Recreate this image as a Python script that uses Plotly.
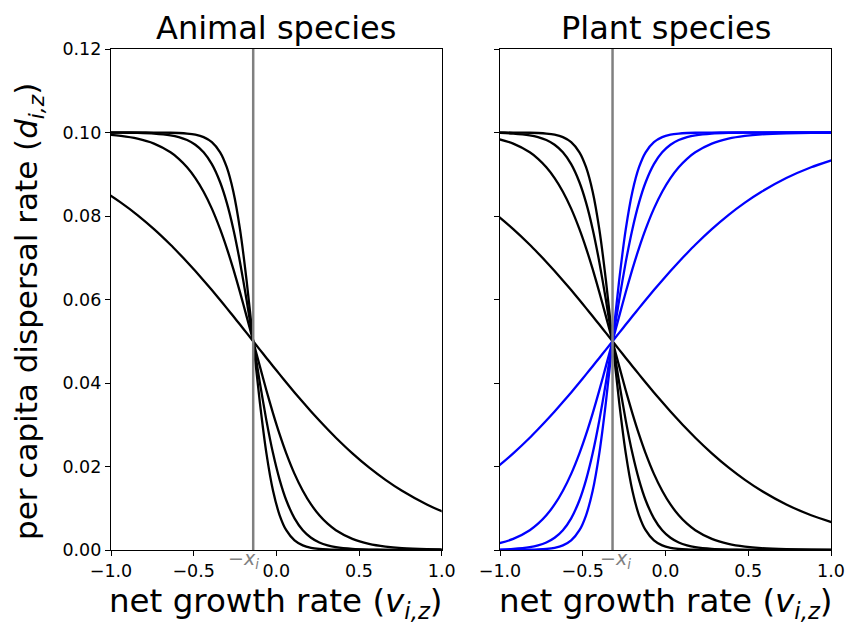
import plotly.graph_objects as go

# Threshold positions (x_i) for each group
animal_xi = 0.14
plant_xi = 0.32
# Where the "-x_i" marker label sits on each growth-rate axis
animal_label_v = -0.2
plant_label_v = -0.3

# Net growth rate sample points for each panel
animal_v = [-1.49, -1.34, -1.19, -1.04, -0.94, -0.84, -0.74, -0.64, -0.59, -0.54, -0.49, -0.44,
            -0.39, -0.34, -0.30, -0.26, -0.22, -0.18, -0.14, -0.10, -0.06, -0.02, 0.02, 0.06,
            0.11, 0.16, 0.21, 0.26, 0.31, 0.36, 0.46, 0.56, 0.66, 0.76, 0.91, 1.06, 1.21]
plant_v = [-1.67, -1.52, -1.37, -1.22, -1.12, -1.02, -0.92, -0.82, -0.77, -0.72, -0.67, -0.62,
           -0.57, -0.52, -0.48, -0.44, -0.40, -0.36, -0.32, -0.28, -0.24, -0.20, -0.16, -0.12,
           -0.07, -0.02, 0.03, 0.08, 0.13, 0.18, 0.28, 0.38, 0.48, 0.58, 0.73, 0.88, 1.03]

# Dispersal rates decreasing with growth rate (four steepness levels)
dec_shallow = [0.09370, 0.09168, 0.08909, 0.08581, 0.08320, 0.08022, 0.07685, 0.07311, 0.07109,
               0.06900, 0.06682, 0.06457, 0.06225, 0.05987, 0.05793, 0.05597, 0.05399, 0.05200,
               0.05000, 0.04800, 0.04601, 0.04403, 0.04207, 0.04013, 0.03775, 0.03543, 0.03318,
               0.03100, 0.02891, 0.02689, 0.02315, 0.01978, 0.01680, 0.01419, 0.01091, 0.00832,
               0.00630]
dec_medium = [0.09997, 0.09993, 0.09982, 0.09955, 0.09918, 0.09852, 0.09734, 0.09526, 0.09370,
              0.09168, 0.08909, 0.08581, 0.08176, 0.07685, 0.07231, 0.06726, 0.06178, 0.05597,
              0.05000, 0.04403, 0.03822, 0.03274, 0.02769, 0.02315, 0.01824, 0.01419, 0.01091,
              0.00832, 0.00630, 0.00474, 0.00266, 0.00148, 0.00082, 0.00045, 0.00018, 0.00007,
              0.00003]
dec_steep = [0.10000, 0.10000, 0.10000, 0.09999, 0.09997, 0.09991, 0.09975, 0.09933, 0.09890,
             0.09820, 0.09707, 0.09526, 0.09241, 0.08808, 0.08320, 0.07685, 0.06900, 0.05987,
             0.05000, 0.04013, 0.03100, 0.02315, 0.01680, 0.01192, 0.00759, 0.00474, 0.00293,
             0.00180, 0.00110, 0.00067, 0.00025, 0.00009, 0.00003, 0.00001, 0.0, 0.0,
             0.0]
dec_sharp = [0.10000, 0.10000, 0.10000, 0.10000, 0.10000, 0.10000, 0.09999, 0.09994, 0.09988,
             0.09975, 0.09948, 0.09890, 0.09770, 0.09526, 0.09168, 0.08581, 0.07685, 0.06457,
             0.05000, 0.03543, 0.02315, 0.01419, 0.00832, 0.00474, 0.00230, 0.00110, 0.00052,
             0.00025, 0.00012, 0.00006, 0.00001, 0.0, 0.0, 0.0, 0.0, 0.0,
             0.0]

# Dispersal rates increasing with growth rate (plants only)
inc_shallow = [0.00630, 0.00832, 0.01091, 0.01419, 0.01680, 0.01978, 0.02315, 0.02689, 0.02891,
               0.03100, 0.03318, 0.03543, 0.03775, 0.04013, 0.04207, 0.04403, 0.04601, 0.04800,
               0.05000, 0.05200, 0.05399, 0.05597, 0.05793, 0.05987, 0.06225, 0.06457, 0.06682,
               0.06900, 0.07109, 0.07311, 0.07685, 0.08022, 0.08320, 0.08581, 0.08909, 0.09168,
               0.09370]
inc_medium = [0.00003, 0.00007, 0.00018, 0.00045, 0.00082, 0.00148, 0.00266, 0.00474, 0.00630,
              0.00832, 0.01091, 0.01419, 0.01824, 0.02315, 0.02769, 0.03274, 0.03822, 0.04403,
              0.05000, 0.05597, 0.06178, 0.06726, 0.07231, 0.07685, 0.08176, 0.08581, 0.08909,
              0.09168, 0.09370, 0.09526, 0.09734, 0.09852, 0.09918, 0.09955, 0.09982, 0.09993,
              0.09997]
inc_steep = [0.0, 0.0, 0.0, 0.00001, 0.00003, 0.00009, 0.00025, 0.00067, 0.00110,
             0.00180, 0.00293, 0.00474, 0.00759, 0.01192, 0.01680, 0.02315, 0.03100, 0.04013,
             0.05000, 0.05987, 0.06900, 0.07685, 0.08320, 0.08808, 0.09241, 0.09526, 0.09707,
             0.09820, 0.09890, 0.09933, 0.09975, 0.09991, 0.09997, 0.09999, 0.10000, 0.10000,
             0.10000]
inc_sharp = [0.0, 0.0, 0.0, 0.0, 0.0, 0.0, 0.00001, 0.00006, 0.00012,
             0.00025, 0.00052, 0.00110, 0.00230, 0.00474, 0.00832, 0.01419, 0.02315, 0.03543,
             0.05000, 0.06457, 0.07685, 0.08581, 0.09168, 0.09526, 0.09770, 0.09890, 0.09948,
             0.09975, 0.09988, 0.09994, 0.09999, 0.10000, 0.10000, 0.10000, 0.10000, 0.10000,
             0.10000]

x_ticks = [-1.0, -0.5, 0.0, 0.5, 1.0]
x_ticktext = ["\u22121.0", "\u22120.5", "0.0", "0.5", "1.0"]
y_ticks = [0.0, 0.02, 0.04, 0.06, 0.08, 0.10, 0.12]
y_ticktext = ["0.00", "0.02", "0.04", "0.06", "0.08", "0.10", "0.12"]

FONT = "DejaVu Sans"
W, H = 847, 623
LW = 2.3

fig = go.Figure()

for ys in [dec_shallow, dec_medium, dec_steep, dec_sharp]:
    fig.add_trace(go.Scatter(x=animal_v, y=ys, mode="lines", xaxis="x", yaxis="y",
                             line=dict(color="black", width=LW, shape="spline", smoothing=0.6),
                             showlegend=False, hoverinfo="skip"))
for ys in [dec_shallow, dec_medium, dec_steep, dec_sharp]:
    fig.add_trace(go.Scatter(x=plant_v, y=ys, mode="lines", xaxis="x2", yaxis="y2",
                             line=dict(color="black", width=LW, shape="spline", smoothing=0.6),
                             showlegend=False, hoverinfo="skip"))
for ys in [inc_shallow, inc_medium, inc_steep, inc_sharp]:
    fig.add_trace(go.Scatter(x=plant_v, y=ys, mode="lines", xaxis="x2", yaxis="y2",
                             line=dict(color="#0000ff", width=LW, shape="spline", smoothing=0.6),
                             showlegend=False, hoverinfo="skip"))

# Plot-area geometry (pixels)
left1, right1 = 111, 441.7
left2, right2 = 500, 831
top, bottom = 49, 550
px = lambda v: v / W
py = lambda v: (H - v) / H

axis_common = dict(showline=True, linecolor="black", linewidth=1.3, mirror=True,
                   ticks="outside", ticklen=5, tickwidth=1.3, tickcolor="black",
                   showgrid=False, zeroline=False, automargin=False,
                   tickfont=dict(family=FONT, size=17.5, color="black"))

fig.update_layout(
    width=W, height=H,
    margin=dict(l=0, r=0, t=0, b=0, autoexpand=False),
    paper_bgcolor="white", plot_bgcolor="white",
    font=dict(family=FONT, color="black"),
    xaxis=dict(domain=[px(left1), px(right1)], range=[-1, 1], anchor="y",
               tickvals=x_ticks, ticktext=x_ticktext, **axis_common),
    yaxis=dict(domain=[py(bottom), py(top)], range=[0, 0.12], anchor="x",
               tickvals=y_ticks, ticktext=y_ticktext, **axis_common),
    xaxis2=dict(domain=[px(left2), px(right2)], range=[-1, 1], anchor="y2",
                tickvals=x_ticks, ticktext=x_ticktext, **axis_common),
    yaxis2=dict(domain=[py(bottom), py(top)], range=[0, 0.12], anchor="x2",
                tickvals=y_ticks, showticklabels=False, **axis_common),
)

gray = "#808080"
for xref, yref, xi, lv in [("x", "y domain", animal_xi, animal_label_v),
                           ("x2", "y2 domain", plant_xi, plant_label_v)]:
    fig.add_shape(type="line", xref=xref, yref=yref, x0=-xi, x1=-xi, y0=0, y1=1,
                  line=dict(color=gray, width=2.5))
    fig.add_annotation(xref=xref, yref="paper", x=lv, y=py(bottom), xanchor="center",
                       yanchor="top", yshift=5, showarrow=False,
                       text="\u2212<i>x</i><sub><i>i</i></sub>",
                       font=dict(family=FONT, size=19, color=gray))

titles = [("Animal species", (left1 + right1) / 2), ("Plant species", (left2 + right2) / 2)]
for t, cx in titles:
    fig.add_annotation(xref="paper", yref="paper", x=px(cx), y=py(28), xanchor="center",
                       yanchor="middle", showarrow=False, text=t,
                       font=dict(family=FONT, size=32, color="black"))
    fig.add_annotation(xref="paper", yref="paper", x=px(cx), y=py(603), xanchor="center",
                       yanchor="middle", showarrow=False,
                       text="net growth rate (<i>v</i><sub><i>i,z</i></sub>)",
                       font=dict(family=FONT, size=32.5, color="black"))

fig.add_annotation(xref="paper", yref="paper", x=px(28), y=py(312),
                   xanchor="center", yanchor="middle", textangle=-90, showarrow=False,
                   text="per capita dispersal rate (<i>d</i><sub><i>i,z</i></sub>)",
                   font=dict(family=FONT, size=31, color="black"))

fig.write_html("out.html")
